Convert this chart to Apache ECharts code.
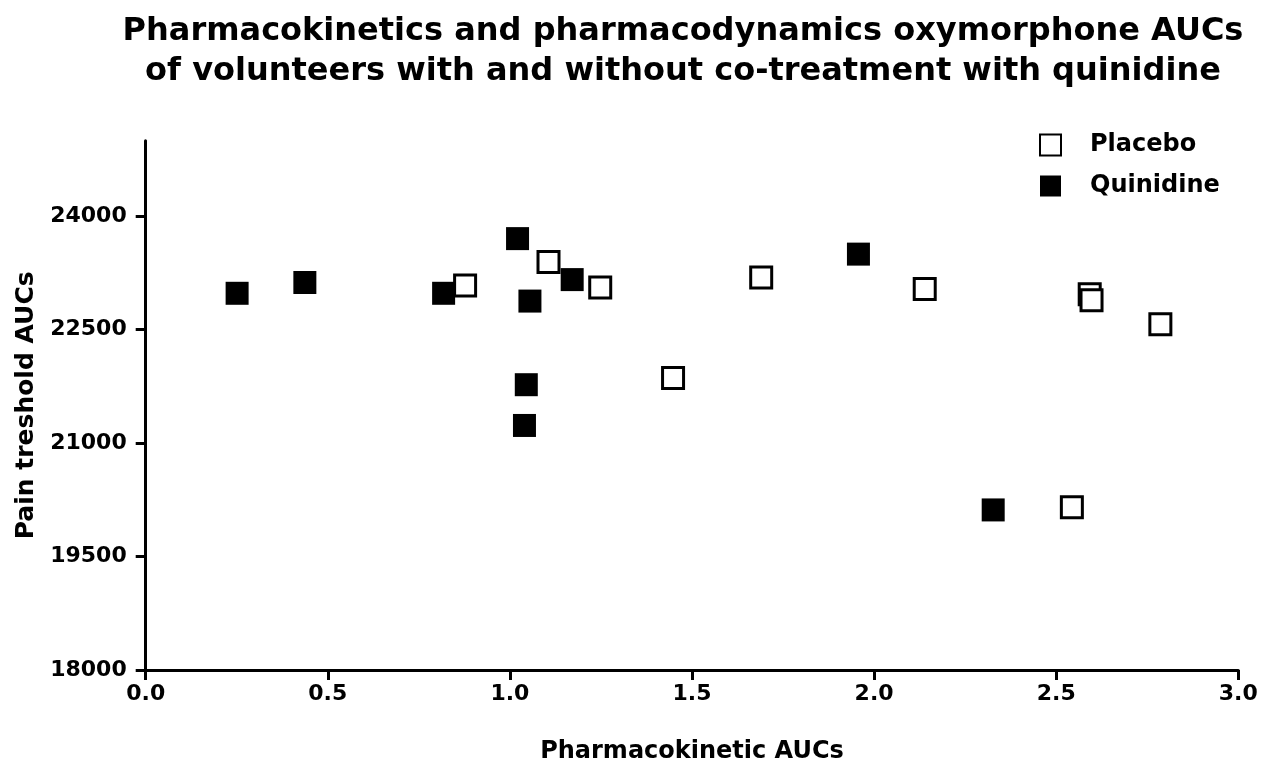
<!DOCTYPE html>
<html>
<head>
<meta charset="utf-8">
<script src="https://cdn.jsdelivr.net/npm/echarts@6/dist/echarts.min.js"></script>
<style>
html,body{margin:0;padding:0;background:#fff;}
#c{width:1270px;height:771px;}
</style>
</head>
<body>
<div id="c"></div>
<script>
const titleLines = ['Pharmacokinetics and pharmacodynamics oxymorphone AUCs', 'of volunteers with and without co-treatment with quinidine'];
const xTicks = [0, 0.5, 1, 1.5, 2, 2.5, 3];
const yTicks = [18000, 19500, 21000, 22500, 24000];
const seriesNames = ['Placebo', 'Quinidine'];
const placeboX = [0.877, 1.106, 1.248, 1.448, 1.690, 2.139, 2.543, 2.592, 2.597, 2.786];
const placeboY = [23085, 23396, 23059, 21863, 23191, 23038, 20151, 22969, 22890, 22573];
const quinidineX = [0.251, 0.437, 0.818, 1.021, 1.055, 1.171, 1.045, 1.040, 1.957, 2.327];
const quinidineY = [22982, 23125, 22982, 23705, 22879, 23163, 21773, 21234, 23500, 20117];

const FONT = 'DejaVu Sans';
const pairs = (xs, ys) => xs.map((x, i) => [x, ys[i]]);

const chart = echarts.init(document.getElementById('c'), null, {renderer: 'canvas'});
chart.setOption({
  backgroundColor: '#fff',
  animation: false,
  title: {
    text: titleLines.join('\n'),
    left: 678,
    top: 7,
    textAlign: 'center',
    textStyle: {fontFamily: FONT, fontWeight: 'bold', fontSize: 32, lineHeight: 40, color: '#000'}
  },
  legend: {
    orient: 'vertical',
    left: 1034,
    top: 128,
    itemWidth: 21,
    itemHeight: 21,
    itemGap: 17,
    data: seriesNames,
    textStyle: {fontFamily: FONT, fontWeight: 'bold', fontSize: 24, color: '#000', padding: [0, 0, 0, 24]}
  },
  grid: {left: 145.7, right: 31.7, top: 140.7, bottom: 101, containLabel: false},
  xAxis: {
    type: 'value',
    min: 0, max: 3, interval: 0.5,
    name: 'Pharmacokinetic AUCs',
    nameLocation: 'middle',
    nameGap: 70,
    nameTextStyle: {fontFamily: FONT, fontWeight: 'bold', fontSize: 24, color: '#000'},
    axisLine: {show: true, lineStyle: {color: '#000', width: 3}},
    axisTick: {show: true, length: 10, lineStyle: {color: '#000', width: 3}, customValues: xTicks},
    axisLabel: {customValues: xTicks, margin: 13, fontFamily: FONT, fontWeight: 'bold', fontSize: 22, color: '#000', formatter: v => Number(v).toFixed(1)},
    splitLine: {show: false}
  },
  yAxis: {
    type: 'value',
    min: 18000, max: 25000, interval: 1500,
    name: 'Pain treshold AUCs',
    nameLocation: 'middle',
    nameRotate: 90,
    nameGap: 103,
    nameTextStyle: {fontFamily: FONT, fontWeight: 'bold', fontSize: 25, color: '#000', verticalAlign: 'middle'},
    axisLine: {show: true, lineStyle: {color: '#000', width: 3}},
    axisTick: {show: true, length: 10, lineStyle: {color: '#000', width: 3}, customValues: yTicks},
    axisLabel: {customValues: yTicks, margin: 19, fontFamily: FONT, fontWeight: 'bold', fontSize: 22, color: '#000', formatter: v => String(Math.round(v))},
    splitLine: {show: false}
  },
  series: [
    {
      name: 'Quinidine',
      type: 'scatter',
      symbol: 'rect',
      symbolSize: 23,
      itemStyle: {color: '#000', opacity: 1},
      emphasis: {disabled: true},
      data: pairs(quinidineX, quinidineY)
    },
    {
      name: 'Placebo',
      type: 'scatter',
      symbol: 'rect',
      symbolSize: 21,
      itemStyle: {color: '#fff', borderColor: '#000', borderWidth: 3, opacity: 1},
      emphasis: {disabled: true},
      data: pairs(placeboX, placeboY)
    }
  ]
});
</script>
</body>
</html>
